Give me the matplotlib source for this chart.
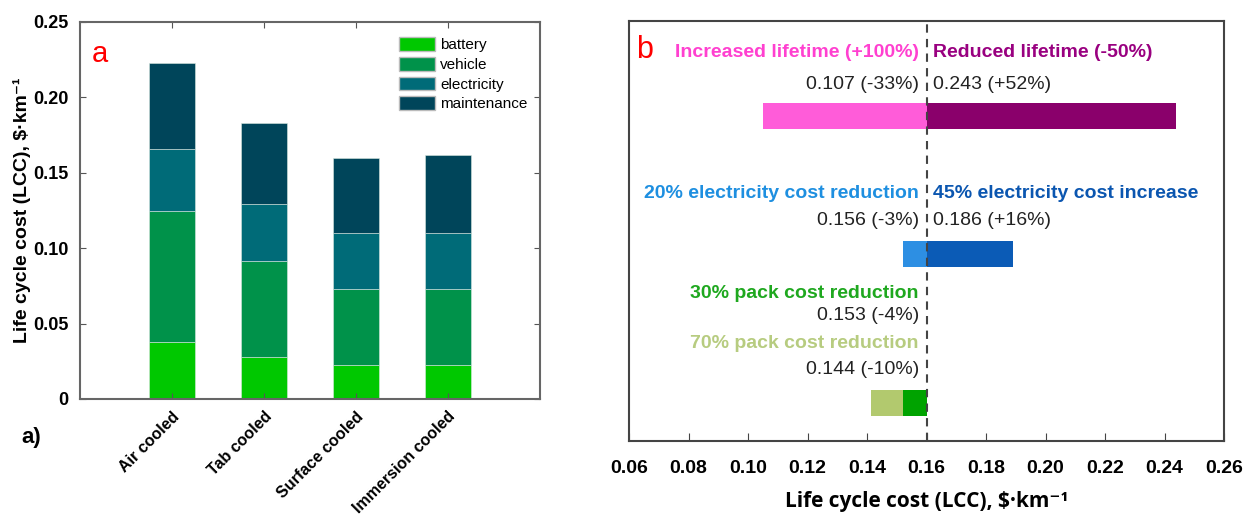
import matplotlib
matplotlib.use("Agg")
import matplotlib.pyplot as plt
from matplotlib.patches import Patch

plt.rcParams['font.family'] = ['Liberation Sans', 'DejaVu Sans']

# panel a: stacked life cycle cost per cooling option
categories = ['Air cooled', 'Tab cooled', 'Surface cooled', 'Immersion cooled']
battery = [0.038, 0.028, 0.0225, 0.0225]
vehicle = [0.0866, 0.0634, 0.0502, 0.0502]
electricity = [0.041, 0.0382, 0.0371, 0.0373]
maintenance = [0.0572, 0.0533, 0.0503, 0.0521]
part_names = ['battery', 'vehicle', 'electricity', 'maintenance']
part_colors = ['#00c800', '#00924a', '#006b78', '#00455a']

# panel b: sensitivity of the LCC
baseline = 0.16
lifetime = [0.105, 0.244]          # +100% lifetime, -50% lifetime
elec = [0.152, 0.189]              # -20% electricity, +45% electricity
pack = [0.152, 0.1413]             # 30% and 70% pack cost reduction
lifetime_text = ['Increased lifetime (+100%)', 'Reduced lifetime (-50%)']
lifetime_vals = ['0.107 (-33%)', '0.243 (+52%)']
elec_text = ['20% electricity cost reduction', '45% electricity cost increase']
elec_vals = ['0.156 (-3%)', '0.186 (+16%)']
pack_text = ['30% pack cost reduction', '70% pack cost reduction']
pack_vals = ['0.153 (-4%)', '0.144 (-10%)']
xticks_b = [0.06, 0.08, 0.10, 0.12, 0.14, 0.16, 0.18, 0.20, 0.22, 0.24, 0.26]

fig = plt.figure(figsize=(12.55, 5.21), dpi=100)

# ---------------- panel a ----------------
ax = fig.add_axes([0.0637, 0.2342, 0.3665, 0.7236])
x = [1, 2, 3, 4]
bottom = [0, 0, 0, 0]
for vals, name, col in zip([battery, vehicle, electricity, maintenance], part_names, part_colors):
    ax.bar(x, vals, 0.5, bottom=bottom, color=col, label=name, edgecolor='#d8e8e0', linewidth=0.4)
    bottom = [b + v for b, v in zip(bottom, vals)]

ax.set_xlim(0, 5)
ax.set_ylim(0, 0.25)
ax.set_yticks([0, 0.05, 0.10, 0.15, 0.20, 0.25])
ax.set_yticklabels(['0', '0.05', '0.10', '0.15', '0.20', '0.25'], fontsize=13, fontweight='bold')
ax.set_xticks(x)
ax.set_xticklabels(categories, rotation=45, ha='right', rotation_mode='anchor',
                   fontsize=11.5, fontweight='bold')
ax.tick_params(direction='in', top=True, right=True, length=4, color='#555555', pad=8)
ax.tick_params(axis='x', pad=7)
for s in ax.spines.values():
    s.set_color('#666666')
    s.set_linewidth(1.5)
ax.set_ylabel('Life cycle cost (LCC), $·km⁻¹', fontsize=14, fontweight='bold', labelpad=2)
ax.text(0.025, 0.915, 'a', transform=ax.transAxes, color='red', fontsize=21, va='center')
fig.text(0.025, 0.161, 'a)', fontsize=16, fontweight='bold', va='center', ha='center')

handles = [Patch(facecolor=c, edgecolor='#bbbbbb', label=n) for c, n in zip(part_colors, part_names)]
leg = ax.legend(handles=handles, loc='upper left', bbox_to_anchor=(0.66, 1.0), frameon=False,
                fontsize=11, handlelength=2.4, handleheight=1.0, handletextpad=0.3,
                labelspacing=0.3, borderaxespad=0.6)

# ---------------- panel b ----------------
bx = fig.add_axes([0.5012, 0.1536, 0.4741, 0.8061])
bx.set_xlim(0.06, 0.26)
bx.set_ylim(0, 1)
h = 0.062
y_life, y_elec, y_pack = 0.774, 0.445, 0.090

bx.barh(y_life, lifetime[0] - baseline, h, left=baseline, color='#ff5cd9')
bx.barh(y_life, lifetime[1] - baseline, h, left=baseline, color='#8a006b')
bx.barh(y_elec, elec[0] - baseline, h, left=baseline, color='#2d8fe3')
bx.barh(y_elec, elec[1] - baseline, h, left=baseline, color='#0b5bb6')
bx.barh(y_pack, pack[1] - baseline, h, left=baseline, color='#b2c96e')
bx.barh(y_pack, pack[0] - baseline, h, left=baseline, color='#00a300')

bx.axvline(baseline, color='#444444', linestyle=(0, (4, 3)), linewidth=1.5)

xl, xr = 0.1574, 0.1623
lab_kw = dict(fontsize=14, fontweight='bold', va='center')
val_kw = dict(fontsize=14, color='#222222', va='center')
bx.text(xl, 0.924, lifetime_text[0], ha='right', color='#ff40d0', **lab_kw)
bx.text(xr, 0.924, lifetime_text[1], ha='left', color='#990080', **lab_kw)
bx.text(xl, 0.848, lifetime_vals[0], ha='right', **val_kw)
bx.text(xr, 0.848, lifetime_vals[1], ha='left', **val_kw)
bx.text(xl, 0.590, elec_text[0], ha='right', color='#1e8fe0', **lab_kw)
bx.text(xr, 0.590, elec_text[1], ha='left', color='#0b56b0', **lab_kw)
bx.text(xl, 0.524, elec_vals[0], ha='right', **val_kw)
bx.text(xr, 0.524, elec_vals[1], ha='left', **val_kw)
bx.text(xl, 0.352, pack_text[0], ha='right', color='#1fa81f', **lab_kw)
bx.text(xl, 0.298, pack_vals[0], ha='right', **val_kw)
bx.text(xl, 0.233, pack_text[1], ha='right', color='#b7cc80', **lab_kw)
bx.text(xl, 0.171, pack_vals[1], ha='right', **val_kw)
bx.text(0.0625, 0.931, 'b', color='red', fontsize=22, va='center')

bx.set_xticks(xticks_b)
bx.set_xticklabels(['%.2f' % t for t in xticks_b], fontsize=14, fontweight='bold')
bx.set_yticks([])
bx.tick_params(axis='x', direction='in', length=6, color='#444444', pad=14)
for s in bx.spines.values():
    s.set_color('#444444')
    s.set_linewidth(1.5)
bx.set_xlabel('Life cycle cost (LCC), $·km⁻¹', fontsize=15, fontweight='bold',
              family=['Open Sans', 'DejaVu Sans'], labelpad=10)

fig.savefig('out.png', dpi=100)
